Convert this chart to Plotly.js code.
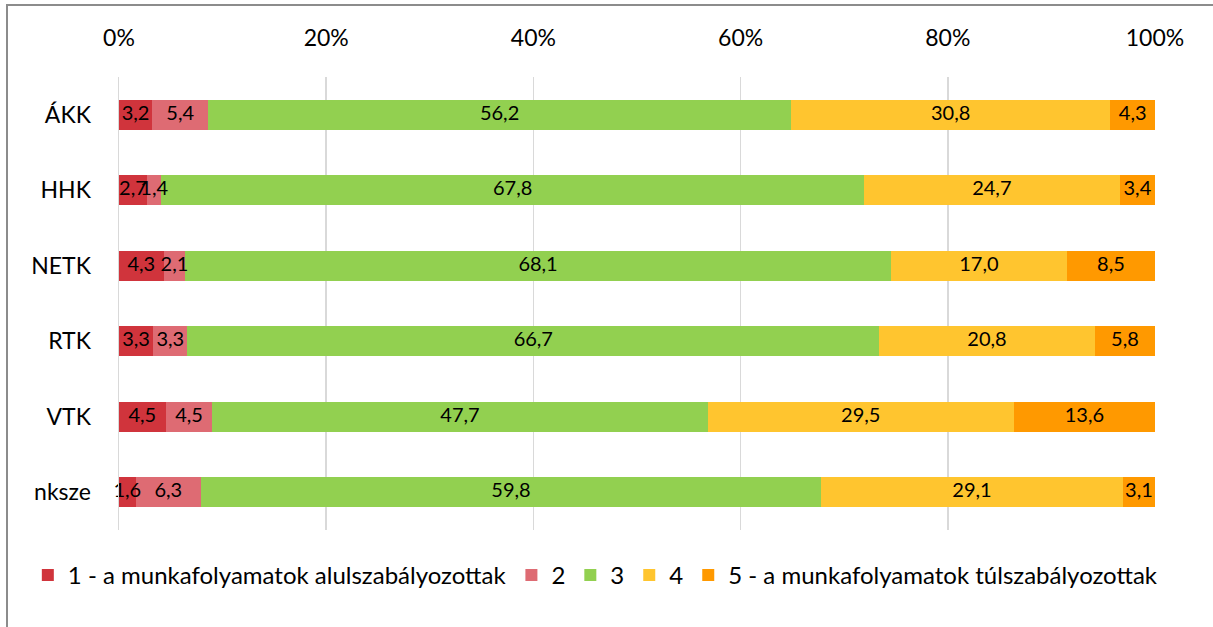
<!DOCTYPE html>
<html>
<head>
<meta charset="utf-8">
<script src="https://cdn.plot.ly/plotly-3.0.1.min.js"></script>
<style>
body{margin:0;padding:0;background:#fff;overflow:hidden;}
#chart{width:1213px;height:627px;}
#frame{position:absolute;left:6px;top:4px;width:2000px;height:2000px;border-left:2px solid #8c8c8c;border-top:2px solid #8c8c8c;pointer-events:none;}
</style>
</head>
<body>
<div id="chart"></div>
<div id="frame"></div>
<script>
const categories = ["ÁKK", "HHK", "NETK", "RTK", "VTK", "nksze"];
const seriesNames = ["1 - a munkafolyamatok alulszabályozottak", "2", "3", "4", "5 - a munkafolyamatok túlszabályozottak"];
const s1 = [3.2, 2.7, 4.3, 3.3, 4.5, 1.6];
const s2 = [5.4, 1.4, 2.1, 3.3, 4.5, 6.3];
const s3 = [56.2, 67.8, 68.1, 66.7, 47.7, 59.8];
const s4 = [30.8, 24.7, 17.0, 20.8, 29.5, 29.1];
const s5 = [4.3, 3.4, 8.5, 5.8, 13.6, 3.1];
const colors = ["#D0343C", "#DE6B73", "#92D050", "#FFC52F", "#FF9900"];
const tickVals = [0, 20, 40, 60, 80, 100];
const tickText = ["0%", "20%", "40%", "60%", "80%", "100%"];

const allSeries = [s1, s2, s3, s4, s5];
const FONT = "Lato, 'Open Sans', sans-serif";

// bars (normalized to 100% by the library)
const barTraces = allSeries.map((vals, i) => ({
  type: "bar",
  orientation: "h",
  name: seriesNames[i],
  y: categories,
  x: vals,
  marker: {color: colors[i], line: {width: 0}},
  hoverinfo: "skip"
}));

// value labels drawn on top of all bars, centred in each normalized segment
const totals = categories.map((c, j) => allSeries.reduce((a, s) => a + s[j], 0));
const labelTraces = allSeries.map((vals, i) => ({
  type: "scatter",
  mode: "text",
  showlegend: false,
  y: categories,
  x: vals.map((v, j) => {
    let start = 0;
    for (let k = 0; k < i; k++) start += allSeries[k][j];
    return (start + v / 2) / totals[j] * 100;
  }),
  text: vals.map(v => v.toFixed(1).replace(".", ",")),
  textposition: "middle center",
  textfont: {family: FONT, size: 20, color: "#000"},
  cliponaxis: false,
  hoverinfo: "skip"
}));

const layout = {
  width: 1213, height: 627,
  margin: {l: 119, r: 58, t: 77, b: 97},
  barmode: "stack",
  barnorm: "percent",
  bargap: 0.6,
  paper_bgcolor: "#fff",
  plot_bgcolor: "#fff",
  font: {family: FONT, color: "#000", size: 22},
  showlegend: true,
  legend: {
    orientation: "h",
    xref: "paper",
    x: -0.088, xanchor: "left",
    y: -0.1, yanchor: "middle",
    font: {family: FONT, size: 24, color: "#000"},
    itemwidth: 30,
    traceorder: "normal",
    bgcolor: "rgba(0,0,0,0)"
  },
  xaxis: {
    side: "top",
    range: [0, 100],
    tickvals: tickVals,
    ticktext: tickText,
    tickangle: 0,
    showgrid: true,
    gridcolor: "#d9d9d9",
    gridwidth: 1.5,
    zeroline: false,
    showline: false,
    ticks: "",
    ticklabelstandoff: 25,
    tickfont: {family: FONT, size: 23, color: "#000"},
    automargin: false,
    fixedrange: true
  },
  yaxis: {
    autorange: "reversed",
    type: "category",
    showgrid: false,
    zeroline: false,
    showline: true,
    linecolor: "#d9d9d9",
    linewidth: 1.5,
    ticks: "",
    ticklabelstandoff: 22,
    tickfont: {family: FONT, size: 23, color: "#000"},
    automargin: false,
    fixedrange: true
  }
};

Plotly.newPlot("chart", barTraces.concat(labelTraces), layout, {displayModeBar: false, staticPlot: true});
</script>
</body>
</html>
